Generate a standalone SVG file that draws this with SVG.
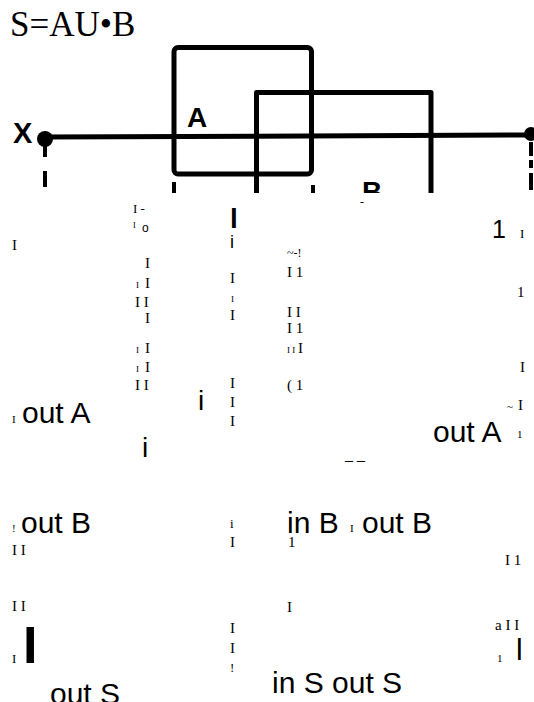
<svg xmlns="http://www.w3.org/2000/svg" width="534" height="702" viewBox="0 0 534 702">
<style>
.s{font-family:"Liberation Serif","Times New Roman",serif;fill:#000}
.a{font-family:"Liberation Sans",Arial,sans-serif;fill:#000}
.b{font-family:"Liberation Sans",Arial,sans-serif;font-weight:bold;fill:#000}
.ln{fill:none;stroke:#000;stroke-width:5;stroke-linejoin:round}
.tk{fill:none;stroke:#000;stroke-width:4}
</style>
<defs>
<clipPath id="fig"><rect x="0" y="0" width="534" height="193"/></clipPath>
</defs>
<rect width="534" height="702" fill="#fff"/>
<text class="s" x="10" y="36" font-size="35">S=AU•B</text>
<g clip-path="url(#fig)">
<g id="connectors">
<path class="ln" d="M45,137 L531,135"/>
<path class="tk" d="M45,139 V157 M45,171 V187 M531,142 V156 M531,160 V168 M531,173 V190 M174,182 V200 M313,185 V200"/>
</g>
<g id="nodeA">
<rect class="ln" x="174" y="47.5" width="137.5" height="126.5" rx="4"/>
<text class="b" x="187" y="127" font-size="28">A</text>
</g>
<g id="nodeB">
<path class="ln" d="M256.5,200 V92.5 H431 V200"/>
<text class="b" x="362" y="201" font-size="28">B</text>
</g>
<g id="terminalX">
<circle cx="45" cy="139" r="8"/>
<text class="b" x="13" y="143" font-size="29">X</text>
</g>
<g id="terminalOut">
<circle cx="531" cy="134" r="7"/>
</g>
</g>
<g id="left-texts">
<text class="s" x="133" y="213" font-size="13">I -</text>
<text class="s" x="133" y="228" font-size="8">I</text>
<text class="a" x="142" y="232" font-size="12">o</text>
<text class="s" x="12" y="250" font-size="15">I</text>
<text class="b" x="230" y="228" font-size="28">l</text>
<text class="a" x="230" y="248" font-size="18">i</text>
<text class="s" x="145" y="268" font-size="15">I</text>
<text class="s" x="136" y="288" font-size="9">I</text>
<text class="s" x="145" y="288" font-size="15">I</text>
<text class="s" x="135" y="307" font-size="15">I I</text>
<text class="s" x="145" y="323" font-size="15">I</text>
<text class="s" x="136" y="353" font-size="9">I</text>
<text class="s" x="145" y="353" font-size="15">I</text>
<text class="s" x="136" y="372" font-size="9">I</text>
<text class="s" x="145" y="372" font-size="15">I</text>
<text class="s" x="135" y="390" font-size="15">I I</text>
<text class="s" x="230" y="283" font-size="15">I</text>
<text class="s" x="231" y="302" font-size="9">I</text>
<text class="s" x="230" y="320" font-size="15">I</text>
<text class="s" x="230" y="388" font-size="15">I</text>
<text class="s" x="230" y="407" font-size="15">I</text>
<text class="s" x="230" y="426" font-size="15">I</text>
<text class="a" x="198" y="410" font-size="28">i</text>
<text class="s" x="12" y="423" font-size="11">I</text>
<text class="a" x="22" y="423" font-size="30">out A</text>
<text class="a" x="142" y="457" font-size="28">i</text>
<text class="s" x="12" y="532" font-size="11">!</text>
<text class="a" x="21" y="533" font-size="30">out B</text>
<text class="s" x="12" y="555" font-size="15">I I</text>
<text class="s" x="230" y="528" font-size="13">i</text>
<text class="s" x="230" y="547" font-size="15">I</text>
<text class="s" x="12" y="611" font-size="15">I I</text>
<text class="s" x="230" y="633" font-size="15">I</text>
<text class="s" x="230" y="653" font-size="15">I</text>
<text class="s" x="230" y="672" font-size="13">!</text>
<text class="s" x="12" y="663" font-size="13">I</text>
<text class="b" x="23" y="663" font-size="52">I</text>
<text class="a" x="50" y="704" font-size="30">out S</text>
</g>
<g id="right-texts">
<text class="s" x="360" y="206" font-size="12">-</text>
<text class="a" x="492" y="238" font-size="25">1</text>
<text class="s" x="520" y="238" font-size="13">I</text>
<text class="s" x="287" y="257" font-size="12">~-!</text>
<text class="s" x="287" y="277" font-size="15">I 1</text>
<text class="s" x="517" y="297" font-size="15">1</text>
<text class="s" x="287" y="317" font-size="15">I I</text>
<text class="s" x="287" y="333" font-size="15">I 1</text>
<text class="s" x="287" y="353" font-size="9">I I</text>
<text class="s" x="298" y="353" font-size="15">I</text>
<text class="s" x="520" y="372" font-size="15">I</text>
<text class="s" x="287" y="390" font-size="15">( 1</text>
<text class="s" x="507" y="410" font-size="11">~</text>
<text class="s" x="518" y="410" font-size="15">I</text>
<text class="a" x="433" y="442" font-size="30">out A</text>
<text class="s" x="517" y="438" font-size="11">1</text>
<text class="s" x="345" y="460" font-size="16">_ _</text>
<text class="a" x="287" y="533" font-size="30">in B</text>
<text class="s" x="350" y="532" font-size="11">I</text>
<text class="a" x="362" y="533" font-size="30">out B</text>
<text class="s" x="288" y="547" font-size="15">1</text>
<text class="s" x="505" y="565" font-size="15">I 1</text>
<text class="s" x="287" y="612" font-size="15">I</text>
<text class="s" x="495" y="630" font-size="15">a I I</text>
<text class="s" x="497" y="662" font-size="11">1</text>
<text class="a" x="516" y="660" font-size="30">l</text>
<text class="a" x="272" y="693" font-size="30">in S out S</text>
</g>
</svg>
